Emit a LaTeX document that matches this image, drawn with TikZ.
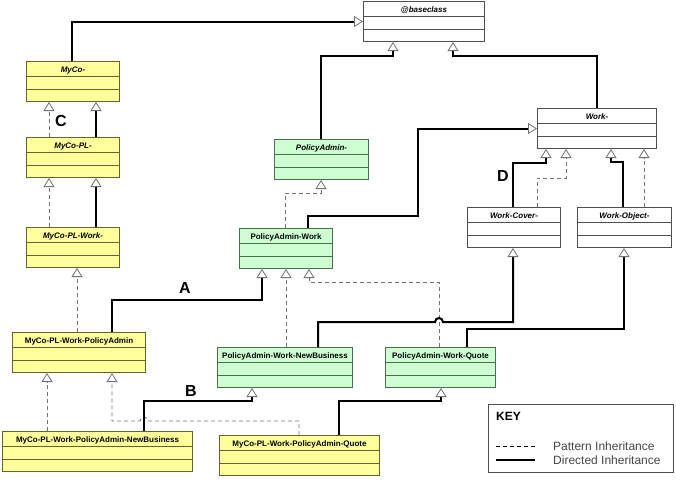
\documentclass[tikz,border=0pt]{standalone}
\usepackage{fontspec}
\setmainfont{Liberation Sans}
\usetikzlibrary{arrows.meta,positioning,calc}

\definecolor{clsyellow}{RGB}{255,255,155}
\definecolor{clsgreen}{RGB}{206,255,210}
\definecolor{yellowline}{RGB}{100,100,50}
\definecolor{greenline}{RGB}{75,110,80}
\definecolor{whiteline}{RGB}{80,80,80}
\definecolor{dashgray}{RGB}{115,115,115}
\definecolor{keytext}{RGB}{70,70,70}

\begin{document}
\begin{tikzpicture}[
    x=1pt, y=-1pt,
    umltip/.tip={Triangle[length=9pt, width=11pt, line width=0.8pt, color=dashgray, fill=white]},
    cls/.style={rectangle, draw=#1, line width=1pt, anchor=north west, inner xsep=2pt, inner ysep=0pt,
        minimum height=40pt, text height=10.5pt, text depth=29.5pt,
        font=\fontsize{8}{9}\selectfont\bfseries,
        path picture={
            \draw[#1, line width=1pt] ([yshift=-15pt]path picture bounding box.north west) -- ([yshift=-15pt]path picture bounding box.north east);
            \draw[#1, line width=1pt] ([yshift=-28pt]path picture bounding box.north west) -- ([yshift=-28pt]path picture bounding box.north east);
        }},
    yellowcls/.style={cls=yellowline, fill=clsyellow},
    greencls/.style={cls=greenline, fill=clsgreen},
    whitecls/.style={cls=whiteline, fill=white},
    abstract/.style={font=\fontsize{8}{9}\selectfont\bfseries\itshape},
    patline/.style={draw=dashgray, line width=0.9pt, dash pattern=on 4pt off 3pt, -{umltip}},
    dirline/.style={draw=black, line width=2pt, -{umltip}},
    letter/.style={font=\fontsize{16}{16}\selectfont\bfseries},
    keyentry/.style={anchor=west, inner sep=0pt, text=keytext, font=\fontsize{12}{12}\selectfont}
]
    \useasboundingbox (0,0) rectangle (676,480);

    % base classes
    \node[whitecls, abstract, minimum width=121pt] (base) at (363,1) {@baseclass};
    \node[whitecls, abstract, minimum width=119pt] (work) at (537,108) {Work-};
    \node[whitecls, abstract, minimum width=93pt] (wcover) at (467,207) {Work-Cover-};
    \node[whitecls, abstract, minimum width=94pt] (wobject) at (577,207) {Work-Object-};

    % MyCo branch
    \node[yellowcls, abstract, minimum width=93pt] (myco) at (26,61) {MyCo-};
    \node[yellowcls, abstract, minimum width=93pt] (mycopl) at (26,137) {MyCo-PL-};
    \node[yellowcls, abstract, minimum width=93pt] (mycoplwork) at (26,227) {MyCo-PL-Work-};
    \node[yellowcls, minimum width=133pt] (mpa) at (12,332) {MyCo-PL-Work-PolicyAdmin};
    \node[yellowcls, minimum width=190pt] (mpanb) at (2,431) {MyCo-PL-Work-PolicyAdmin-NewBusiness};
    \node[yellowcls, minimum width=160pt] (mpaq) at (219,435) {MyCo-PL-Work-PolicyAdmin-Quote};

    % PolicyAdmin branch
    \node[greencls, abstract, minimum width=94pt] (pa) at (274,139) {PolicyAdmin-};
    \node[greencls, minimum width=93pt] (paw) at (239,228) {PolicyAdmin-Work};
    \node[greencls, minimum width=135pt] (pawnb) at (217,347) {PolicyAdmin-Work-NewBusiness};
    \node[greencls, minimum width=110pt] (pawq) at (385,347) {PolicyAdmin-Work-Quote};

    % inheritance to @baseclass
    \draw[dirline] (72,0 |- myco.north) |- (base.west);
    \draw[dirline] (321,0 |- pa.north) |- (393,56) -- (393,0 |- base.south);
    \draw[dirline] (597,0 |- work.north) |- (453,56) -- (453,0 |- base.south);

    % MyCo column
    \draw[patline] (49,0 |- mycopl.north) -- (49,0 |- myco.south);
    \draw[dirline] (96,0 |- mycopl.north) -- (96,0 |- myco.south);
    \draw[patline] (49,0 |- mycoplwork.north) -- (49,0 |- mycopl.south);
    \draw[dirline] (96,0 |- mycoplwork.north) -- (96,0 |- mycopl.south);
    \draw[patline] (77,0 |- mpa.north) -- (77,0 |- mycoplwork.south);
    \draw[dirline] (112,0 |- mpa.north) |- (262,300) -- (262,0 |- paw.south);

    % PolicyAdmin-Work
    \draw[patline] (285,0 |- paw.north) |- (321,193) -- (321,0 |- pa.south);
    \draw[dirline] (308,0 |- paw.north) |- (418,216) |- (work.west);

    % Work- children
    \draw[dirline] (513,0 |- wcover.north) |- (546,163) -- (546,0 |- work.south);
    \draw[patline] (537,0 |- wcover.north) |- (566,178) -- (566,0 |- work.south);
    \draw[dirline] (623,0 |- wobject.north) |- (611,162) -- (611,0 |- work.south);
    \draw[patline] (644,0 |- wobject.north) -- (644,0 |- work.south);

    % PolicyAdmin-Work children
    \draw[patline] (286,0 |- pawnb.north) -- (286,0 |- paw.south);
    \draw[patline] (439,0 |- pawq.north) |- (309,282) -- (309,0 |- paw.south);
    \draw[dirline] (318,0 |- pawnb.north) |- (435,322) arc[start angle=180, end angle=0, radius=4pt] -- (513,322) -- (513,0 |- wcover.south);
    \draw[dirline] (467,0 |- pawq.north) |- (624,329) -- (624,0 |- wobject.south);

    % bottom row
    \draw[patline] (47,0 |- mpanb.north) -- (47,0 |- mpa.south);
    \draw[patline] (299,0 |- mpaq.north) |- (148,421) arc[start angle=0, end angle=180, radius=4pt] -- (112,421) -- (112,0 |- mpa.south);
    \draw[dirline] (144,0 |- mpanb.north) |- (252,401) -- (252,0 |- pawnb.south);
    \draw[dirline] (339,0 |- mpaq.north) |- (441,401) -- (441,0 |- pawq.south);

    % letters
    \node[letter] (lblA) at (185,288) {A};
    \node[letter] (lblB) at (191,391) {B};
    \node[letter] (lblC) at (61,121) {C};
    \node[letter] (lblD) at (503,176) {D};

    % key
    \node[draw=whiteline, line width=1pt, anchor=north west, minimum width=185pt, minimum height=68pt] (key) at (488,404) {};
    \node[anchor=west, inner sep=0pt, font=\fontsize{12}{12}\selectfont\bfseries] (keytitle) at (496,416) {KEY};
    \draw[draw=black, line width=0.8pt, dash pattern=on 4pt off 3pt] (496,446) -- (535,446);
    \draw[draw=black, line width=1.2pt] (496,460) -- (535,460);
    \node[keyentry] (keypat) at (553,446) {Pattern Inheritance};
    \node[keyentry] (keydir) at (553,460) {Directed Inheritance};
\end{tikzpicture}
\end{document}
